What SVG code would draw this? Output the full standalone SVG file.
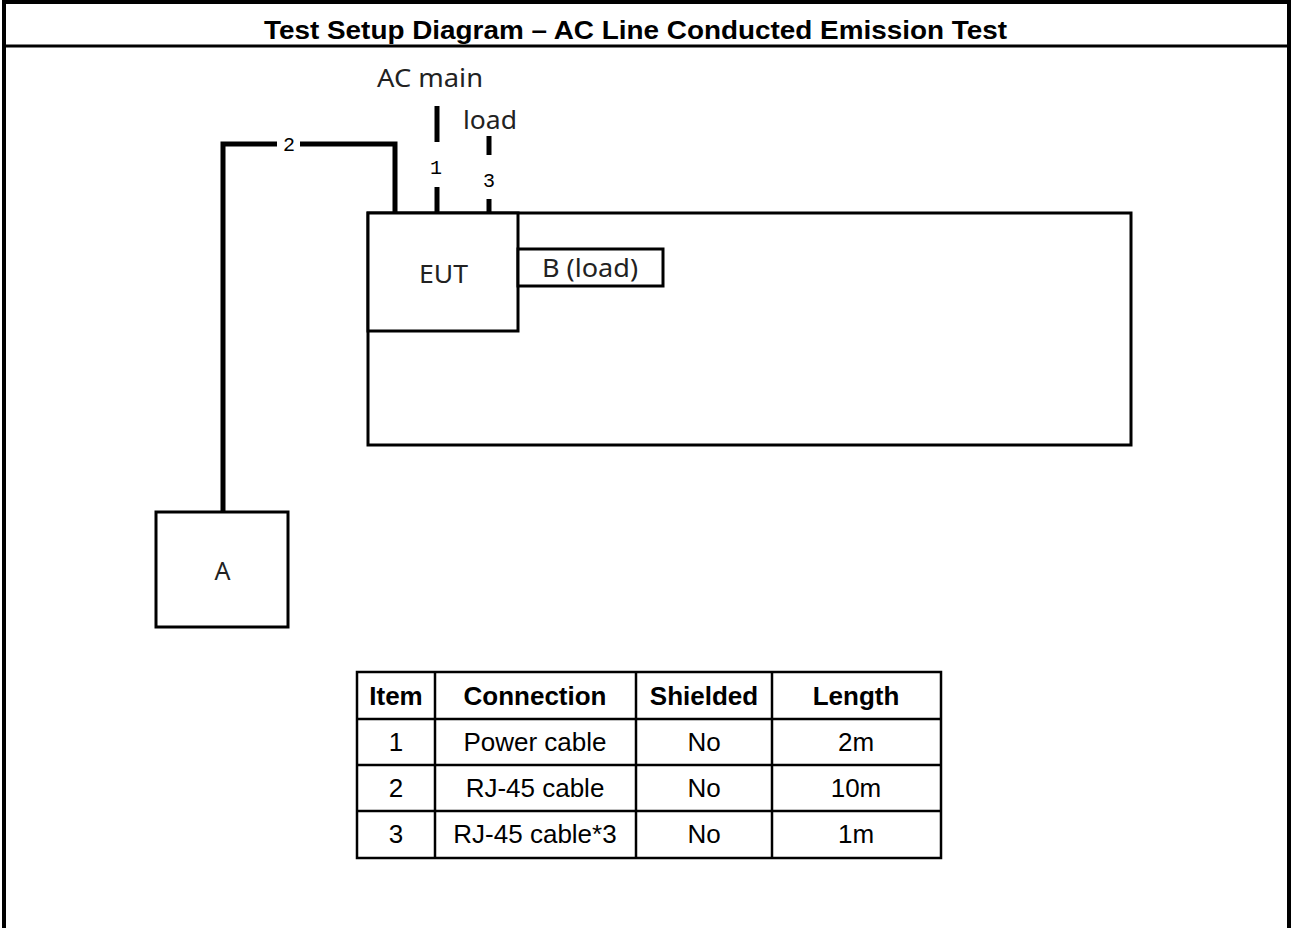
<svg xmlns="http://www.w3.org/2000/svg" width="1292" height="928" viewBox="0 0 1292 928">
<style>
.frame{fill:none;stroke:#000;stroke-width:4}
.box{fill:#fff;stroke:#000;stroke-width:3}
.wire{fill:none;stroke:#000;stroke-width:5}
.grid{fill:none;stroke:#000;stroke-width:2.5}
.lbl{font-family:"Noto Sans","Open Sans",sans-serif;font-size:25px;fill:#222;text-anchor:middle}
.num{font-family:"Liberation Mono","DejaVu Sans Mono",monospace;font-size:20px;fill:#000;text-anchor:middle}
.th{font-family:"Liberation Sans",Arial,sans-serif;font-size:26px;font-weight:bold;fill:#000;text-anchor:middle}
.td{font-family:"Liberation Sans",Arial,sans-serif;font-size:26px;fill:#000;text-anchor:middle}
.title{font-family:"Liberation Sans",Arial,sans-serif;font-size:26px;font-weight:bold;fill:#000;text-anchor:middle}
</style>
<rect width="1292" height="928" fill="#fff"/>
<g id="frame">
<path class="frame" d="M4,928 V2 H1289 V928"/>
<line x1="4" y1="46" x2="1289" y2="46" stroke="#000" stroke-width="3"/>
<text class="title" x="635.5" y="39" textLength="743" lengthAdjust="spacingAndGlyphs">Test Setup Diagram – AC Line Conducted Emission Test</text>
</g>
<g id="table-area">
<rect id="table-rect" class="box" x="368" y="213" width="763" height="232"/>
</g>
<g id="connectors">
<path class="wire" d="M223,511 V144 H277"/>
<path class="wire" d="M300,144 H395 V213"/>
<text class="num" x="289" y="151">2</text>
<line class="wire" x1="437" y1="106" x2="437" y2="142"/>
<line class="wire" x1="437" y1="187" x2="437" y2="213"/>
<text class="num" x="436" y="174">1</text>
<line class="wire" x1="489" y1="136" x2="489" y2="155"/>
<line class="wire" x1="489" y1="199" x2="489" y2="213"/>
<text class="num" x="489" y="187">3</text>
<text class="lbl" x="430" y="87" textLength="106" lengthAdjust="spacingAndGlyphs">AC main</text>
<text class="lbl" x="490" y="129" textLength="54" lengthAdjust="spacingAndGlyphs">load</text>
</g>
<g id="eut">
<rect class="box" x="368" y="213" width="150" height="118"/>
<text class="lbl" x="443.5" y="283" textLength="49" lengthAdjust="spacingAndGlyphs">EUT</text>
</g>
<g id="b-load">
<rect class="box" x="518" y="249" width="145" height="37"/>
<text class="lbl" x="590" y="277" textLength="96" lengthAdjust="spacingAndGlyphs">B (load)</text>
</g>
<g id="a">
<rect class="box" x="156" y="512" width="132" height="115"/>
<text class="lbl" x="222.5" y="580">A</text>
</g>
<g id="legend">
<rect class="grid" x="357" y="672" width="584" height="186"/>
<line class="grid" x1="357" y1="719" x2="941" y2="719"/>
<line class="grid" x1="357" y1="765" x2="941" y2="765"/>
<line class="grid" x1="357" y1="811" x2="941" y2="811"/>
<line class="grid" x1="435" y1="672" x2="435" y2="858"/>
<line class="grid" x1="636" y1="672" x2="636" y2="858"/>
<line class="grid" x1="772" y1="672" x2="772" y2="858"/>
<text class="th" x="396" y="705">Item</text>
<text class="th" x="535" y="705">Connection</text>
<text class="th" x="704" y="705">Shielded</text>
<text class="th" x="856" y="705">Length</text>
<text class="td" x="396" y="751">1</text>
<text class="td" x="535" y="751">Power cable</text>
<text class="td" x="704" y="751">No</text>
<text class="td" x="856" y="751">2m</text>
<text class="td" x="396" y="797">2</text>
<text class="td" x="535" y="797">RJ-45 cable</text>
<text class="td" x="704" y="797">No</text>
<text class="td" x="856" y="797">10m</text>
<text class="td" x="396" y="843">3</text>
<text class="td" x="535" y="843">RJ-45 cable*3</text>
<text class="td" x="704" y="843">No</text>
<text class="td" x="856" y="843">1m</text>
</g>
</svg>
